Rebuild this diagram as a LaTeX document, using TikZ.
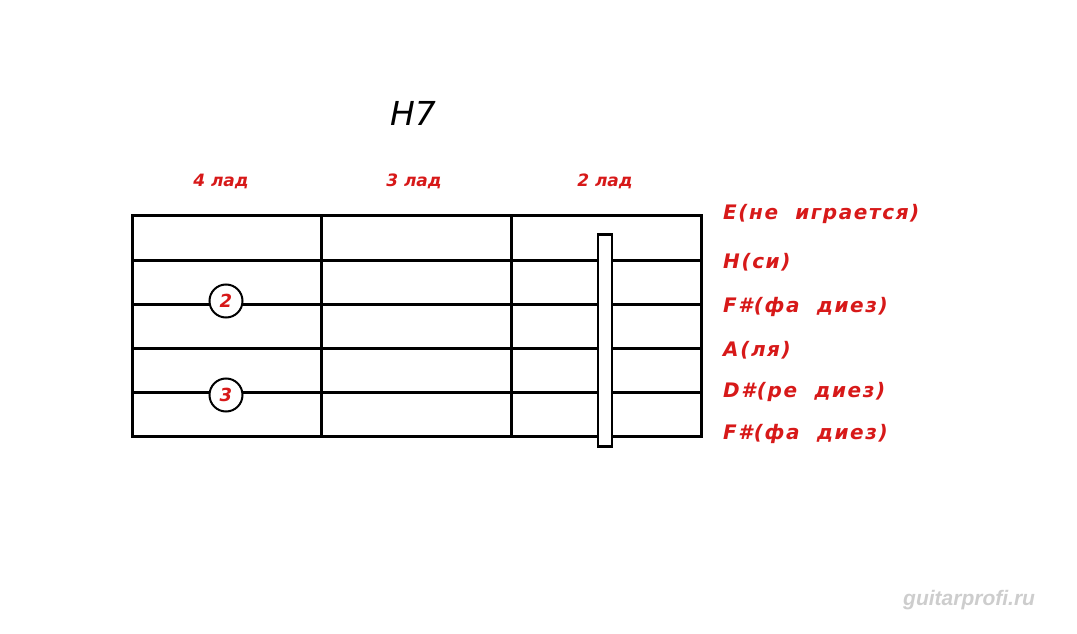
\documentclass[tikz,border=0pt]{standalone}
\usepackage{fontspec}
\setmainfont{DejaVu Sans}
\newfontfamily\wmfont{Liberation Sans}
\newfontfamily\redfont[LetterSpace=8]{DejaVu Sans}
\definecolor{chordred}{RGB}{215,25,25}
\definecolor{wmgray}{RGB}{205,205,205}
\begin{document}
\begin{tikzpicture}[x=1pt,y=-1pt,
  gridline/.style={line width=3pt,line cap=rect},
  redlabel/.style={text=chordred,font=\redfont\bfseries\itshape\fontsize{20}{20}\selectfont,inner sep=0pt},
  fretlabel/.style={text=chordred,font=\bfseries\itshape\fontsize{17}{17}\selectfont,inner sep=0pt},
  finger/.style={circle,draw,line width=2pt,fill=white,minimum size=33pt,inner sep=0pt,text=chordred,font=\bfseries\itshape\fontsize{18}{18}\selectfont},
  barre/.style={draw,line width=2.6pt,fill=white,minimum width=14pt,minimum height=212pt,inner sep=0pt}]
\useasboundingbox (0,0) rectangle (1077,634);
% title
\node[font=\itshape\fontsize{33}{33}\selectfont,inner sep=0pt] (title) at (413,113) {H7};
% fret labels
\node[fretlabel] (f4) at (221,181) {4 лад};
\node[fretlabel] (f3) at (414,181) {3 лад};
\node[fretlabel] (f2) at (605,181) {2 лад};
% strings
\foreach \y/\n in {215/s1,260/s2,304/s3,348/s4,392/s5,436/s6}{
  \coordinate (\n l) at (132,\y);
  \coordinate (\n r) at (701,\y);
  \draw[gridline] (\n l) -- (\n r);
}
% frets
\foreach \x/\n in {132/a,321/b,511/c,701/d}{
  \coordinate (\n t) at (\x,215);
  \coordinate (\n b) at (\x,436);
  \draw[gridline] (\n t) -- (\n b);
}
% barre
\node[barre] (bar) at (605,340.5) {};
% fingers
\node[finger] (n2) at (226,301) {2};
\node[finger] (n3) at (226,395) {3};
% string labels
\node[redlabel,anchor=west] (l1) at (723,214) {E(не\ \ играется)};
\node[redlabel,anchor=west] (l2) at (723,262) {H(си)};
\node[redlabel,anchor=west] (l3) at (723,307) {F\#(фа\ \ диез)};
\node[redlabel,anchor=west] (l4) at (723,350) {A(ля)};
\node[redlabel,anchor=west] (l5) at (723,392) {D\#(ре\ \ диез)};
\node[redlabel,anchor=west] (l6) at (723,434) {F\#(фа\ \ диез)};
% watermark
\node[font=\wmfont\bfseries\itshape\fontsize{21}{21}\selectfont,text=wmgray,anchor=west,inner sep=0pt] (wm) at (903,600) {guitarprofi.ru};
\end{tikzpicture}
\end{document}
